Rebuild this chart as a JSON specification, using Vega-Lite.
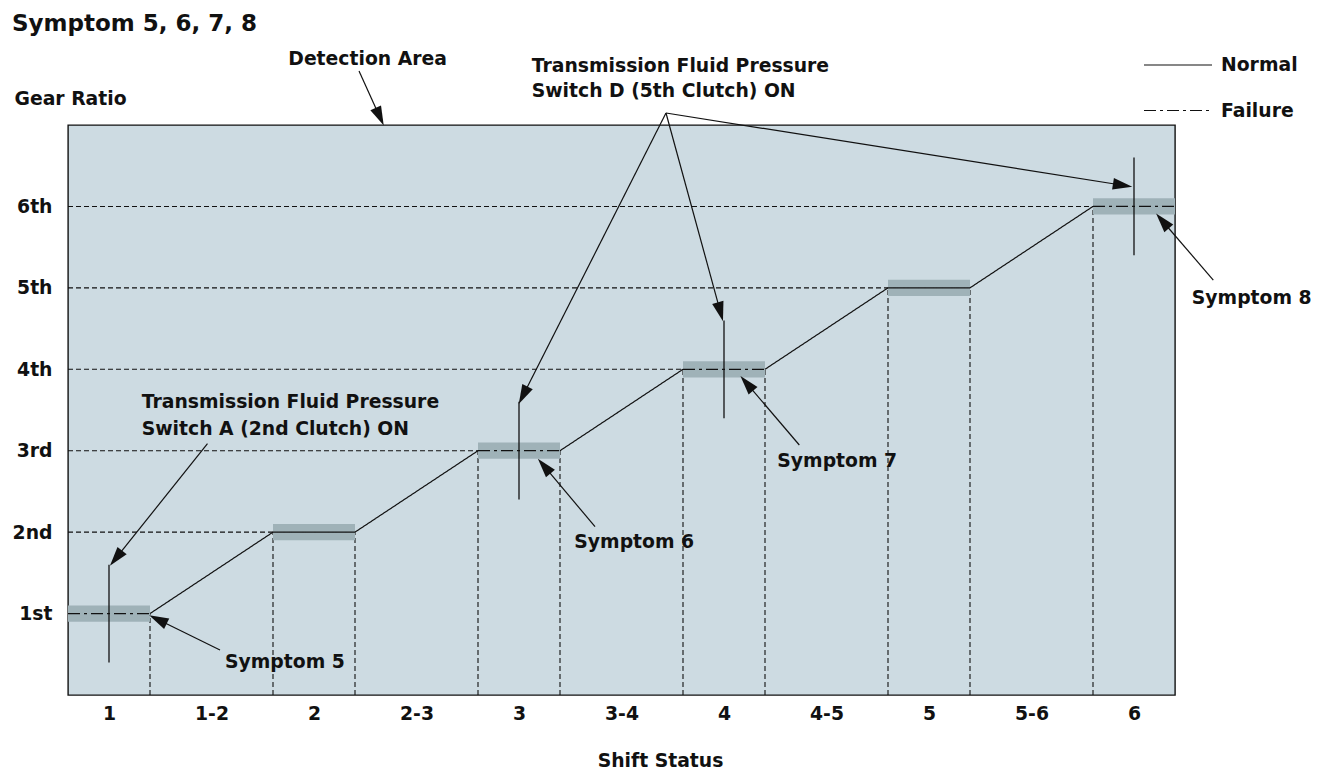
{
  "$schema": "https://vega.github.io/schema/vega-lite/v6.json",
  "width": 1107,
  "height": 570,
  "autosize": {"type": "none"},
  "padding": {"left": 68, "top": 125, "right": 159, "bottom": 83},
  "background": "white",
  "title": {"text": "Symptom 5, 6, 7, 8", "anchor": "start", "frame": "group", "dx": -56, "dy": -14, "offset": 0, "font": "DejaVu Sans", "fontSize": 23, "fontWeight": "bold", "color": "#111"},
  "config": {
    "view": {"fill": "#cddbe2", "stroke": "#111", "strokeWidth": 1.4},
    "font": "DejaVu Sans",
    "axis": {"domain": false, "ticks": false, "grid": false, "labelOverlap": false, "labelFlush": false,
      "labelFont": "DejaVu Sans", "labelFontWeight": "bold", "labelFontSize": 18.8, "labelColor": "#111",
      "titleFont": "DejaVu Sans", "titleFontWeight": "bold", "titleFontSize": 18.8, "titleColor": "#111"}
  },
  "datasets": {
    "grid": [
      {"x": 0, "y": 2, "x2": 5, "y2": 2},
      {"x": 0, "y": 3, "x2": 10, "y2": 3},
      {"x": 0, "y": 4, "x2": 15, "y2": 4},
      {"x": 0, "y": 5, "x2": 20, "y2": 5},
      {"x": 0, "y": 6, "x2": 25, "y2": 6},
      {"x": 2, "y": 0, "x2": 2, "y2": 1},
      {"x": 5, "y": 0, "x2": 5, "y2": 2},
      {"x": 7, "y": 0, "x2": 7, "y2": 2},
      {"x": 10, "y": 0, "x2": 10, "y2": 3},
      {"x": 12, "y": 0, "x2": 12, "y2": 3},
      {"x": 15, "y": 0, "x2": 15, "y2": 4},
      {"x": 17, "y": 0, "x2": 17, "y2": 4},
      {"x": 20, "y": 0, "x2": 20, "y2": 5},
      {"x": 22, "y": 0, "x2": 22, "y2": 5},
      {"x": 25, "y": 0, "x2": 25, "y2": 6}
    ],
    "bars": [
      {"gear": "1st", "x": 0, "x2": 2, "y": 0.9, "y2": 1.1},
      {"gear": "2nd", "x": 5, "x2": 7, "y": 1.9, "y2": 2.1},
      {"gear": "3rd", "x": 10, "x2": 12, "y": 2.9, "y2": 3.1},
      {"gear": "4th", "x": 15, "x2": 17, "y": 3.9, "y2": 4.1},
      {"gear": "5th", "x": 20, "x2": 22, "y": 4.9, "y2": 5.1},
      {"gear": "6th", "x": 25, "x2": 27, "y": 5.9, "y2": 6.1}
    ],
    "lines": [
      {"seg": "N1", "status": "Normal", "x": 2, "y": 1},
      {"seg": "N1", "status": "Normal", "x": 5, "y": 2},
      {"seg": "N1", "status": "Normal", "x": 7, "y": 2},
      {"seg": "N1", "status": "Normal", "x": 10, "y": 3},
      {"seg": "N2", "status": "Normal", "x": 12, "y": 3},
      {"seg": "N2", "status": "Normal", "x": 15, "y": 4},
      {"seg": "N3", "status": "Normal", "x": 17, "y": 4},
      {"seg": "N3", "status": "Normal", "x": 20, "y": 5},
      {"seg": "N3", "status": "Normal", "x": 22, "y": 5},
      {"seg": "N3", "status": "Normal", "x": 25, "y": 6},
      {"seg": "F1", "status": "Failure", "x": 0, "y": 1},
      {"seg": "F1", "status": "Failure", "x": 2, "y": 1},
      {"seg": "F2", "status": "Failure", "x": 10, "y": 3},
      {"seg": "F2", "status": "Failure", "x": 12, "y": 3},
      {"seg": "F3", "status": "Failure", "x": 15, "y": 4},
      {"seg": "F3", "status": "Failure", "x": 17, "y": 4},
      {"seg": "F4", "status": "Failure", "x": 25, "y": 6},
      {"seg": "F4", "status": "Failure", "x": 27, "y": 6}
    ],
    "markers": [
      {"switch": "A", "x": 1, "y": 0.4, "y2": 1.6},
      {"switch": "D", "x": 11, "y": 2.4, "y2": 3.6},
      {"switch": "D", "x": 16, "y": 3.4, "y2": 4.6},
      {"switch": "D", "x": 26, "y": 5.4, "y2": 6.6}
    ],
    "shafts": [
      {"id": 1, "x": 7.098, "y": 7.663, "x2": 7.603, "y2": 7.102},
      {"id": 2, "x": 14.585, "y": 7.147, "x2": 11.101, "y2": 3.680},
      {"id": 3, "x": 14.585, "y": 7.147, "x2": 15.912, "y2": 4.706},
      {"id": 4, "x": 14.585, "y": 7.147, "x2": 25.723, "y2": 6.260},
      {"id": 5, "x": 3.402, "y": 3.088, "x2": 1.171, "y2": 1.680},
      {"id": 6, "x": 3.707, "y": 0.553, "x2": 2.193, "y2": 0.927},
      {"id": 7, "x": 12.854, "y": 2.067, "x2": 11.614, "y2": 2.811},
      {"id": 8, "x": 17.837, "y": 3.070, "x2": 16.555, "y2": 3.827},
      {"id": 9, "x": 27.934, "y": 5.096, "x2": 26.694, "y2": 5.821}
    ],
    "heads": [
      {"id": 1, "x": 7.603, "y": 7.102, "bearing": 155.6},
      {"id": 2, "x": 11.101, "y": 3.680, "bearing": 206.8},
      {"id": 3, "x": 15.912, "y": 4.706, "bearing": 164.7},
      {"id": 4, "x": 25.723, "y": 6.260, "bearing": 99.0},
      {"id": 5, "x": 1.171, "y": 1.680, "bearing": 218.6},
      {"id": 6, "x": 2.193, "y": 0.927, "bearing": 296.1},
      {"id": 7, "x": 11.614, "y": 2.811, "bearing": 320.0},
      {"id": 8, "x": 16.555, "y": 3.827, "bearing": 319.6},
      {"id": 9, "x": 26.694, "y": 5.821, "bearing": 319.25}
    ],
    "notes": [
      {"label": "Detection Area", "x": 5.373, "y": 7.737},
      {"label": "Transmission Fluid Pressure", "x": 11.31, "y": 7.651},
      {"label": "Switch D (5th Clutch) ON", "x": 11.31, "y": 7.344},
      {"label": "Transmission Fluid Pressure", "x": 1.798, "y": 3.521},
      {"label": "Switch A (2nd Clutch) ON", "x": 1.798, "y": 3.193},
      {"label": "Symptom 5", "x": 3.829, "y": 0.328},
      {"label": "Symptom 6", "x": 12.349, "y": 1.802},
      {"label": "Symptom 7", "x": 17.30, "y": 2.804},
      {"label": "Symptom 8", "x": 27.41, "y": 4.802}
    ]
  },
  "layer": [
    {
      "data": {"name": "grid"},
      "mark": {"type": "rule", "color": "#111", "strokeWidth": 1.1, "strokeDash": [5, 3]},
      "encoding": {
        "x": {"field": "x", "type": "quantitative", "scale": {"domain": [0, 27], "nice": false, "zero": false},
          "axis": {"title": "Shift Status", "values": [1, 3.5, 6, 8.5, 11, 13.5, 16, 18.5, 21, 23.5, 26],
            "labelExpr": "datum.value==1?'1':datum.value==3.5?'1-2':datum.value==6?'2':datum.value==8.5?'2-3':datum.value==11?'3':datum.value==13.5?'3-4':datum.value==16?'4':datum.value==18.5?'4-5':datum.value==21?'5':datum.value==23.5?'5-6':'6'",
            "labelPadding": 9, "titleX": 592, "titleY": 71, "titleBaseline": "alphabetic", "titleAlign": "center"}},
        "y": {"field": "y", "type": "quantitative", "scale": {"domain": [0, 7], "nice": false, "zero": false},
          "axis": {"title": "Gear Ratio", "values": [1, 2, 3, 4, 5, 6],
            "labelExpr": "datum.value==1?'1st':datum.value==2?'2nd':datum.value==3?'3rd':datum.value+'th'",
            "labelPadding": 16, "titleAngle": 0, "titleX": -54, "titleY": -21, "titleAlign": "left", "titleBaseline": "alphabetic"}},
        "x2": {"field": "x2"},
        "y2": {"field": "y2"}
      }
    },
    {
      "data": {"name": "bars"},
      "mark": {"type": "rect", "color": "#9fb2b8"},
      "encoding": {
        "x": {"field": "x", "type": "quantitative"},
        "x2": {"field": "x2"},
        "y": {"field": "y", "type": "quantitative"},
        "y2": {"field": "y2"}
      }
    },
    {
      "data": {"name": "lines"},
      "mark": {"type": "line", "color": "#111", "strokeWidth": 1.2},
      "encoding": {
        "x": {"field": "x", "type": "quantitative"},
        "y": {"field": "y", "type": "quantitative"},
        "detail": {"field": "seg"},
        "strokeDash": {"field": "status", "type": "nominal",
          "scale": {"domain": ["Normal", "Failure"], "range": [[1, 0], [12, 4, 3, 4]]},
          "legend": {"orient": "none", "legendX": 1075, "legendY": -70, "title": null, "padding": 0,
            "symbolType": "stroke", "symbolSize": 4624, "symbolStrokeWidth": 1.2, "symbolStrokeColor": "#111",
            "labelFont": "DejaVu Sans", "labelFontWeight": "bold", "labelFontSize": 18.8, "labelColor": "#111",
            "labelOffset": 8, "clipHeight": 20, "rowPadding": 25.5}}
      }
    },
    {
      "data": {"name": "markers"},
      "mark": {"type": "rule", "color": "#111", "strokeWidth": 1.3},
      "encoding": {
        "x": {"field": "x", "type": "quantitative"},
        "y": {"field": "y", "type": "quantitative"},
        "y2": {"field": "y2"}
      }
    },
    {
      "data": {"name": "shafts"},
      "mark": {"type": "rule", "color": "#111", "strokeWidth": 1.2},
      "encoding": {
        "x": {"field": "x", "type": "quantitative"},
        "y": {"field": "y", "type": "quantitative"},
        "x2": {"field": "x2"},
        "y2": {"field": "y2"}
      }
    },
    {
      "data": {"name": "heads"},
      "mark": {"type": "point", "shape": "M0,-1L0.6,1L-0.6,1Z", "size": 380, "filled": true, "color": "#111", "opacity": 1, "strokeWidth": 0},
      "encoding": {
        "x": {"field": "x", "type": "quantitative"},
        "y": {"field": "y", "type": "quantitative"},
        "angle": {"field": "bearing", "type": "quantitative", "scale": null}
      }
    },
    {
      "data": {"name": "notes"},
      "mark": {"type": "text", "align": "left", "baseline": "alphabetic", "font": "DejaVu Sans", "fontWeight": "bold", "fontSize": 18.8, "color": "#111"},
      "encoding": {
        "x": {"field": "x", "type": "quantitative"},
        "y": {"field": "y", "type": "quantitative"},
        "text": {"field": "label"}
      }
    }
  ]
}
